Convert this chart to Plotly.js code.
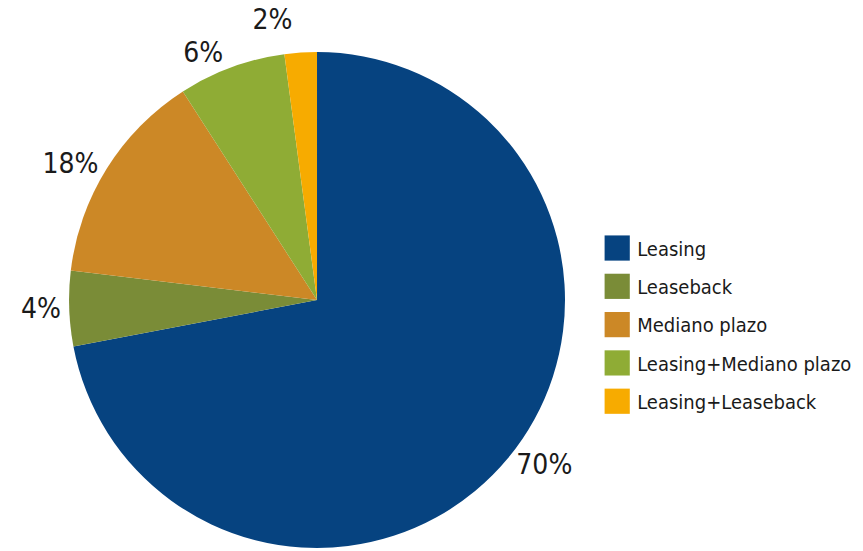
<!DOCTYPE html>
<html>
<head>
<meta charset="utf-8">
<script src="https://cdn.plot.ly/plotly-3.0.1.min.js"></script>
<style>html,body{margin:0;padding:0;background:#fff;overflow:hidden;}#chart{width:863px;height:551px;} .textline{display:none;}</style>
</head>
<body>
<div id="chart"></div>
<script>
const categories = ["Leasing", "Leaseback", "Mediano plazo", "Leasing+Mediano plazo", "Leasing+Leaseback"];
const sliceValues = [72, 4.9, 14, 7, 2.1];
const shownLabels = ["70%", "4%", "18%", "6%", "2%"];
const colors = ["#064380", "#7a8c37", "#cc8826", "#8fac35", "#f7ab00"];

const FONT = "'DejaVu Sans Condensed', 'Liberation Sans Narrow', sans-serif";

const trace = {
  type: "pie",
  labels: categories,
  values: sliceValues,
  text: shownLabels,
  textinfo: "text",
  textposition: "outside",
  sort: false,
  direction: "clockwise",
  rotation: 0,
  marker: {colors: colors, line: {width: 0}},
  outsidetextfont: {family: FONT, size: 28, color: "#1a1a1a"},
  domain: {x: [0.08, 0.6547], y: [0.0054, 0.9056]},
  hoverinfo: "none"
};

const layout = {
  width: 863, height: 551,
  margin: {l: 0, r: 0, t: 0, b: 0},
  paper_bgcolor: "#fff",
  showlegend: true,
  legend: {
    x: 0.692, y: 0.4446, xanchor: "left", yanchor: "middle",
    font: {family: FONT, size: 20, color: "#1a1a1a"},
    itemwidth: 30,
    bgcolor: "rgba(0,0,0,0)"
  }
};

Plotly.newPlot("chart", [trace], layout, {displayModeBar: false, staticPlot: true}).then(function () {
  document.querySelectorAll(".legend [clip-path]").forEach(function (el) {
    el.removeAttribute("clip-path");
  });
  document.querySelectorAll(".legendpoints path").forEach(function (p) {
    p.setAttribute("transform", "translate(20,0) scale(2.1)");
  });
  const items = document.querySelectorAll(".legend .traces");
  let y0 = null;
  items.forEach(function (g, i) {
    const m = /translate\(([-\d.]+)[ ,]+([-\d.]+)\)/.exec(g.getAttribute("transform") || "");
    if (!m) return;
    const x = parseFloat(m[1]);
    if (y0 === null) y0 = parseFloat(m[2]);
    g.setAttribute("transform", "translate(" + x + "," + (y0 + i * 38.3) + ")");
  });
});
</script>
</body>
</html>
